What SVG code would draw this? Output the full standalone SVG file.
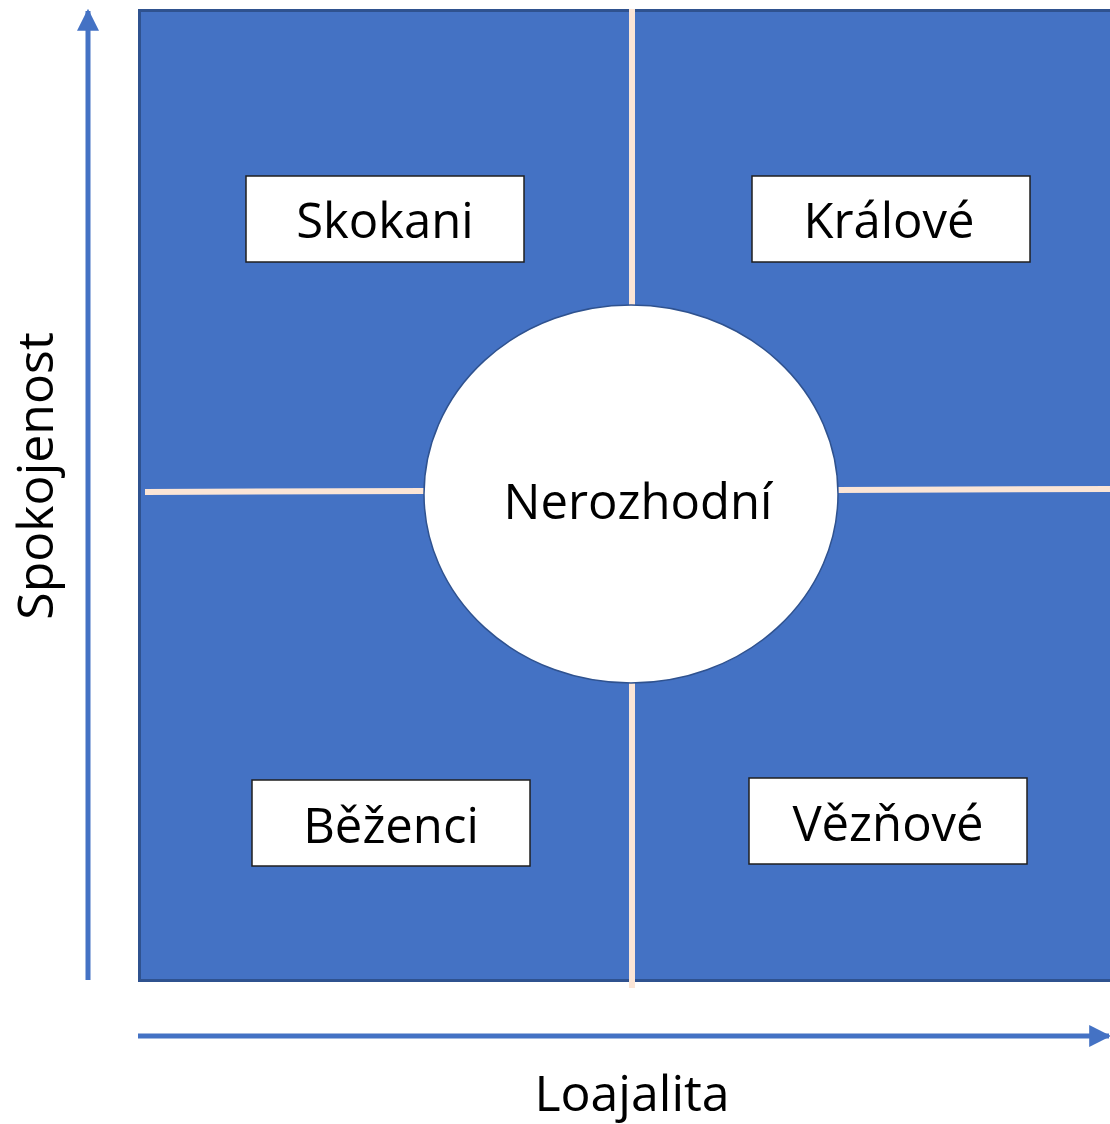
<svg xmlns="http://www.w3.org/2000/svg" width="1110" height="1124" viewBox="0 0 1110 1124">
<defs>
<style>
.lbl{font-family:"Open Sans","Noto Sans",sans-serif;font-size:49px;fill:#000;text-anchor:middle}
.ax{font-size:50px}
.box{fill:#fff;stroke:#1f1f1f;stroke-width:1.5}
.div{stroke:#FBE5D6;stroke-width:6;fill:none}
.axis{stroke:#4472C4;stroke-width:5;fill:none}
</style>
<marker id="ah" viewBox="0 0 10 10" refX="9" refY="5" markerWidth="4.4" markerHeight="4.4" orient="auto" markerUnits="strokeWidth">
<path d="M0,0 L10,5 L0,10 z" fill="#4472C4"/>
</marker>
</defs>
<rect id="grid" x="139.5" y="10.5" width="975" height="970" fill="#4472C4" stroke="#2F528F" stroke-width="3"/>
<g id="connectors">
<line class="div" x1="632" y1="9" x2="632" y2="988"/>
<line class="div" x1="145" y1="492" x2="425" y2="491"/>
<line class="div" x1="836" y1="490" x2="1110" y2="489"/>
<line class="axis" x1="88" y1="980" x2="88" y2="11" marker-end="url(#ah)"/>
<line class="axis" x1="138" y1="1036" x2="1109" y2="1036" marker-end="url(#ah)"/>
</g>
<g id="n-nerozhodni">
<ellipse cx="631" cy="494" rx="207" ry="189" fill="#fff" stroke="#2F528F" stroke-width="1.5"/>
<text class="lbl" x="638" y="519">Nerozhodní</text>
</g>
<g id="n-skokani">
<rect class="box" x="246" y="176" width="278" height="86"/>
<text class="lbl" x="385" y="238">Skokani</text>
</g>
<g id="n-kralove">
<rect class="box" x="752" y="176" width="278" height="86"/>
<text class="lbl" x="889" y="238">Králové</text>
</g>
<g id="n-bezenci">
<rect class="box" x="252" y="780" width="278" height="86"/>
<text class="lbl" x="391" y="843">Běženci</text>
</g>
<g id="n-veznove">
<rect class="box" x="749" y="778" width="278" height="86"/>
<text class="lbl" x="888" y="841">Vězňové</text>
</g>
<g id="axis-labels">
<text class="lbl ax" x="632" y="1111">Loajalita</text>
<text class="lbl ax" transform="translate(53,476) rotate(-90)" x="0" y="0">Spokojenost</text>
</g>
</svg>
